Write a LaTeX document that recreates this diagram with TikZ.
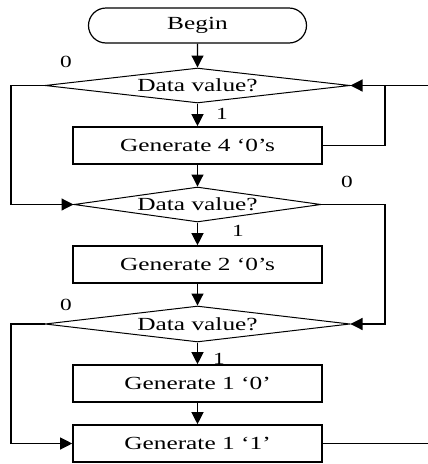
\documentclass[tikz,border=0pt]{standalone}
\usepackage{fontspec}
\setmainfont{Liberation Serif}[FakeStretch=1.37]
\usetikzlibrary{shapes.geometric,shapes.misc,arrows.meta}
\begin{document}
\begin{tikzpicture}[x=1pt,y=-1pt,
  every node/.style={font=\fontsize{18.5}{20}\selectfont},
  terminal/.style={rounded rectangle, draw, line width=1.2pt,
    minimum width=218pt, minimum height=35pt, inner sep=0pt},
  process/.style={rectangle, draw, line width=1.6pt,
    minimum width=249pt, minimum height=37pt, inner sep=0pt},
  decision/.style={diamond, draw, line width=1pt, inner sep=0pt,
    minimum height=35pt},
  flow/.style={line width=1.2pt, -{Triangle[length=12pt,width=12pt]}},
  plain/.style={line width=1.2pt},
  branch/.style={font=\fontsize{17}{18}\selectfont}]
\useasboundingbox (0,0) rectangle (428,464);

% main column
\node[terminal] (begin) at (197.5,25.5) {Begin};
\node[decision, minimum width=305pt, aspect=8.7,
  label={center:Data value?}] (d1) at (197.5,85.5) {};
\node[process] (b1) at (197.5,145.5) {Generate 4 ‘0’s};
\node[decision, minimum width=247pt, aspect=7.06,
  label={center:Data value?}] (d2) at (197.5,204.5) {};
\node[process] (b2) at (197.5,264.5) {Generate 2 ‘0’s};
\node[decision, minimum width=305pt, aspect=8.5, minimum height=36pt,
  label={center:Data value?}] (d3) at (197.5,324) {};
\node[process] (b3) at (197.5,383.5) {Generate 1 ‘0’};
\node[process] (b4) at (197.5,443.5) {Generate 1 ‘1’};

% branch values
\node[branch] (z1) at (66,62) {0};
\node[branch] (o1) at (222,114) {1};
\node[branch] (z2) at (347,182) {0};
\node[branch] (o2) at (238,231) {1};
\node[branch] (z3) at (66,305) {0};
\node[branch] (o3) at (219,359) {1};

% routing columns and free ends
\coordinate (xl) at (11,0);
\coordinate (xr) at (385,0);
\coordinate (inR) at (428,85.5);
\coordinate (outR) at (428,443.5);

% straight-down connectors
\draw[flow] (begin) -- (d1);
\draw[flow] (d1) -- (b1);
\draw[flow] (b1) -- (d2);
\draw[flow] (d2) -- (b2);
\draw[flow] (b2) -- (d3);
\draw[flow] (d3) -- (b3);
\draw[flow] (b3) -- (b4);

% loops and bypasses
\draw[flow] (b1.east) -- (b1.east -| xr) |- (d1.east);
\draw[plain] (inR) -- (d1.east -| xr);
\draw[flow] (d1.west) -- (d1.west -| xl) |- (d2.west);
\draw[flow] (d2.east) -- (d2.east -| xr) |- (d3.east);
\draw[flow] (d3.west) -- (d3.west -| xl) |- (b4.west);
\draw[plain] (b4.east) -- (outR);
\end{tikzpicture}
\end{document}
